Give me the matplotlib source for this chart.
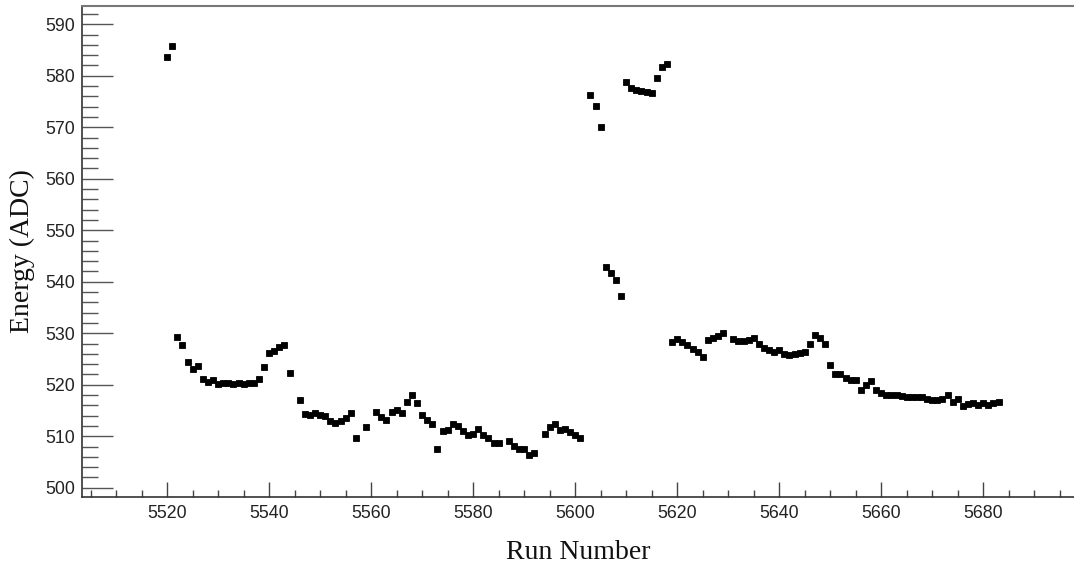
import numpy as np
import matplotlib
matplotlib.use("Agg")
import matplotlib.pyplot as plt
from matplotlib.ticker import MultipleLocator

runs = [5520, 5521, 5522, 5523, 5524, 5525, 5526, 5527, 5528, 5529,
        5530, 5531, 5532, 5533, 5534, 5535, 5536, 5537, 5538, 5539,
        5540, 5541, 5542, 5543, 5544, 5546, 5547, 5548, 5549, 5550,
        5551, 5552, 5553, 5554, 5555, 5556, 5557, 5559, 5561, 5562,
        5563, 5564, 5565, 5566, 5567, 5568, 5569, 5570, 5571, 5572,
        5573, 5574, 5575, 5576, 5577, 5578, 5579, 5580, 5581, 5582,
        5583, 5584, 5585, 5587, 5588, 5589, 5590, 5591, 5592, 5594,
        5595, 5596, 5597, 5598, 5599, 5600, 5601, 5603, 5604, 5605,
        5606, 5607, 5608, 5609, 5610, 5611, 5612, 5613, 5614, 5615,
        5616, 5617, 5618, 5619, 5620, 5621, 5622, 5623, 5624, 5625,
        5626, 5627, 5628, 5629, 5631, 5632, 5633, 5634, 5635, 5636,
        5637, 5638, 5639, 5640, 5641, 5642, 5643, 5644, 5645, 5646,
        5647, 5648, 5649, 5650, 5651, 5652, 5653, 5654, 5655, 5656,
        5657, 5658, 5659, 5660, 5661, 5662, 5663, 5664, 5665, 5666,
        5667, 5668, 5669, 5670, 5671, 5672, 5673, 5674, 5675, 5676,
        5677, 5678, 5679, 5680, 5681, 5682, 5683]
energy = [583.7, 585.7, 529.2, 527.7, 524.4, 523.0, 523.7, 521.2, 520.5, 520.9,
          520.2, 520.4, 520.3, 520.2, 520.3, 520.2, 520.4, 520.3, 521.2, 523.5,
          526.1, 526.6, 527.3, 527.7, 522.3, 517.1, 514.3, 514.1, 514.5, 514.2,
          513.9, 513.0, 512.6, 513.0, 513.5, 514.6, 509.6, 511.7, 514.8, 513.8,
          513.2, 514.7, 515.1, 514.6, 516.6, 518.0, 516.4, 514.1, 513.2, 512.4,
          507.5, 511.1, 511.2, 512.4, 511.9, 511.0, 510.3, 510.4, 511.4, 510.3,
          509.6, 508.6, 508.6, 509.1, 508.2, 507.5, 507.5, 506.4, 506.7, 510.4,
          511.7, 512.4, 511.3, 511.5, 510.9, 510.3, 509.6, 576.3, 574.1, 570.1,
          542.9, 541.7, 540.3, 537.2, 578.7, 577.6, 577.3, 577.1, 576.9, 576.7,
          579.6, 581.8, 582.2, 528.3, 528.9, 528.3, 527.7, 526.9, 526.3, 525.3,
          528.7, 529.0, 529.5, 530.0, 528.9, 528.4, 528.4, 528.7, 529.0, 527.9,
          527.2, 526.7, 526.4, 526.7, 525.9, 525.8, 525.9, 526.1, 526.4, 528.0,
          529.6, 529.1, 528.0, 523.8, 522.1, 522.1, 521.4, 520.9, 520.9, 518.9,
          520.0, 520.8, 519.0, 518.4, 518.1, 518.0, 518.0, 517.8, 517.7, 517.6,
          517.6, 517.7, 517.3, 517.1, 517.0, 517.2, 518.0, 516.6, 517.3, 515.9,
          516.2, 516.5, 516.0, 516.4, 516.0, 516.5, 516.6]

xticks = [5520, 5540, 5560, 5580, 5600, 5620, 5640, 5660, 5680]
yticks = [500, 510, 520, 530, 540, 550, 560, 570, 580, 590]

fig = plt.figure(figsize=(10.74, 5.64), dpi=100)
ax = fig.add_axes([82 / 1074, 1 - 497 / 564, 1 - 82 / 1074, (497 - 6) / 564])

ax.plot(runs, energy, ls='none', marker='s', ms=4.8, mew=0.6, color='black', mec='black')

ax.set_xlim(5503.3, 5697.8)
ax.set_ylim(498.2, 593.55)
ax.set_xticks(xticks)
ax.set_yticks(yticks)
ax.xaxis.set_minor_locator(MultipleLocator(5))
ax.yaxis.set_minor_locator(MultipleLocator(2))

tick_font = {'family': 'Liberation Sans', 'size': 12.8}
ax.set_xticklabels([str(t) for t in xticks], **tick_font, color='#222222')
ax.set_yticklabels([str(t) for t in yticks], **tick_font, color='#222222')

ax.tick_params(axis='y', which='major', direction='in', length=22, width=1, color='#555555', pad=5)
ax.tick_params(axis='y', which='minor', direction='in', length=11.5, width=1, color='#555555')
ax.tick_params(axis='x', which='major', direction='in', length=10.8, width=1, color='#444444', pad=6)
ax.tick_params(axis='x', which='minor', direction='in', length=5.3, width=1, color='#444444')

ax.spines['right'].set_visible(False)
for s in ['left', 'bottom']:
    ax.spines[s].set_color('#333333')
    ax.spines[s].set_linewidth(1.2)
ax.spines['top'].set_color('#777777')
ax.spines['top'].set_linewidth(1.5)

label_font = {'family': 'Liberation Serif', 'size': 20, 'color': '#111111'}
ax.set_xlabel('Run Number', **label_font, labelpad=13)
ax.set_ylabel('Energy (ADC)', **label_font, labelpad=7)

fig.savefig('out.png', dpi=100)
